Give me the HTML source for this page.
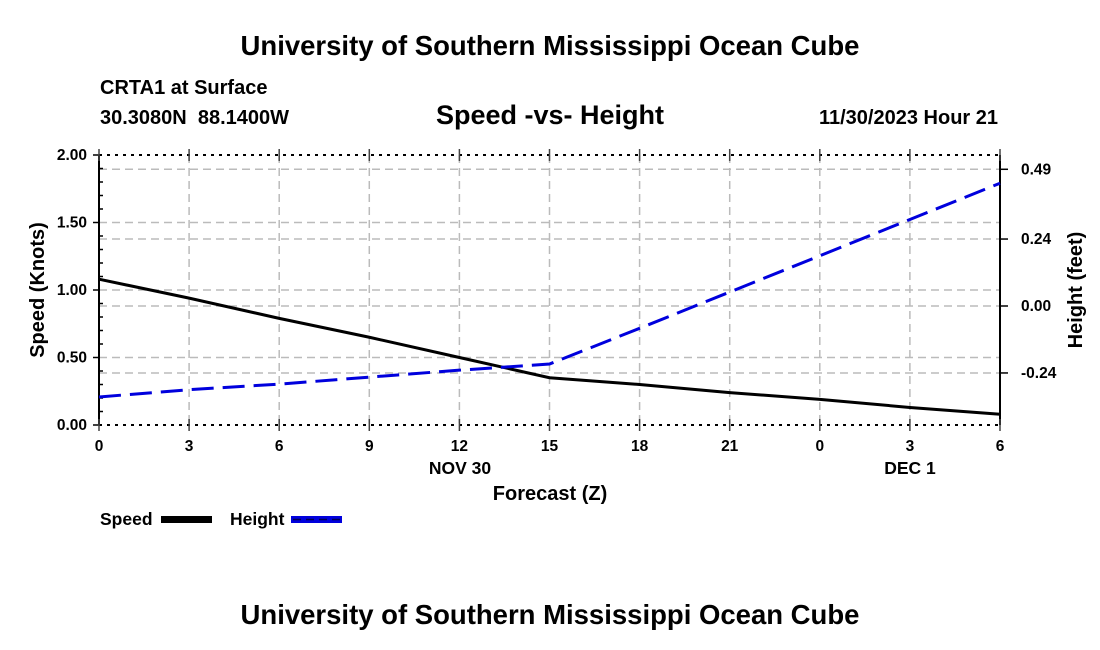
<!DOCTYPE html>
<html><head><meta charset="utf-8"><style>
body{margin:0;background:#fff;}
svg{display:block;font-family:"Liberation Sans",Arial,sans-serif;font-weight:bold;}
text{white-space:pre;}
</style></head><body>
<svg id="c" width="1100" height="650">
<text x="550" y="55" font-size="27.5" text-anchor="middle">University of Southern Mississippi Ocean Cube</text>
<text x="100" y="94" font-size="20">CRTA1 at Surface</text>
<text x="100" y="124" font-size="20" xml:space="preserve">30.3080N  88.1400W</text>
<text x="550" y="124" font-size="27" text-anchor="middle">Speed -vs- Height</text>
<text x="998" y="124" font-size="20" text-anchor="end">11/30/2023 Hour 21</text>
<text x="550" y="624" font-size="27.5" text-anchor="middle">University of Southern Mississippi Ocean Cube</text>
<g id="g"></g>
</svg>
<script>
const hours=[0,3,6,9,12,15,18,21,24,27,30];
const xLabels=["0","3","6","9","12","15","18","21","0","3","6"];
const speedTicks=[0,0.5,1,1.5,2];
const heightTicks=[-0.24,0,0.24,0.49];
const speed=[1.08,0.94,0.79,0.65,0.50,0.35,0.30,0.24,0.19,0.13,0.08];
const height=[-0.326,-0.30,-0.28,-0.255,-0.23,-0.208,-0.08,0.05,0.18,0.31,0.44];
const NS="http://www.w3.org/2000/svg",g=document.getElementById('g');
const L=99,R=1000,T=155,B=425;
const X=h=>L+(R-L)*h/30, Y=s=>B-(B-T)*s/2, YH=v=>306-v*279;
function mk(t,a,txt){const e=document.createElementNS(NS,t);for(const k in a)e.setAttribute(k,a[k]);if(txt!==undefined)e.textContent=txt;g.appendChild(e);return e;}
const grid="#bbb";
hours.forEach((h,i)=>{if(i>0&&i<hours.length-1){const e=mk('line',{x1:X(h),x2:X(h),y1:T,y2:B,stroke:grid,'stroke-dasharray':'8,5','stroke-width':1.5});

}});
speedTicks.slice(1,-1).forEach(s=>{const e=mk('line',{x1:L,x2:R,y1:Y(s),y2:Y(s),stroke:grid,'stroke-dasharray':'8,5','stroke-width':1.5});

});
heightTicks.forEach(v=>{const e=mk('line',{x1:L,x2:R,y1:YH(v),y2:YH(v),stroke:grid,'stroke-dasharray':'8,5','stroke-width':1.5});

});
[[L,T,R,T],[L,B,R,B]].forEach(c=>{mk('line',{x1:c[0],y1:c[1],x2:c[2],y2:c[3],stroke:'#000','stroke-width':2,'stroke-dasharray':'3,5'});});
const la=mk('line',{x1:L,y1:T,x2:L,y2:B,stroke:'#000','stroke-width':2});


const ra=mk('line',{x1:R,y1:T,x2:R,y2:B,stroke:'#000','stroke-width':2});


for(let s=0;s<=2.001;s+=0.1){const maj=Math.abs(s*2-Math.round(s*2))<1e-6;mk('line',{x1:maj?L-6:L,x2:L+(maj?0:4),y1:Y(s),y2:Y(s),stroke:'#000','stroke-width':1.5});}
speedTicks.forEach(s=>{const t=mk('text',{x:L-12,y:Y(s)+5,'font-size':15.5,'text-anchor':'end'},s.toFixed(2));

});
heightTicks.forEach(v=>{mk('line',{x1:R,x2:R+8,y1:YH(v),y2:YH(v),stroke:'#000','stroke-width':1.5});
const t=mk('text',{x:R+21,y:YH(v)+5,'font-size':15.5},v.toFixed(2));

});
hours.forEach((h,i)=>{mk('line',{x1:X(h),x2:X(h),y1:T-6,y2:T+6,stroke:'#444','stroke-width':1.5});mk('line',{x1:X(h),x2:X(h),y1:B-6,y2:B+6,stroke:'#444','stroke-width':1.5});
const t=mk('text',{x:X(h),y:B+26,'font-size':15.5,'text-anchor':'middle'},xLabels[i]);

});
const d1=mk('text',{x:460,y:474,'font-size':17.5,'text-anchor':'middle'},'NOV 30');


const d2=mk('text',{x:910,y:474,'font-size':17.5,'text-anchor':'middle'},'DEC 1');


const xt=mk('text',{x:550,y:500,'font-size':20,'text-anchor':'middle'},'Forecast (Z)');


const yt=mk('text',{x:0,y:0,'font-size':20,'text-anchor':'middle',transform:'translate(44,290) rotate(-90)'},'Speed (Knots)');


const yt2=mk('text',{x:0,y:0,'font-size':20,'text-anchor':'middle',transform:'translate(1082,290) rotate(-90)'},'Height (feet)');


const sp=mk('polyline',{points:hours.map((h,i)=>X(h)+','+Y(speed[i])).join(' '),fill:'none',stroke:'#000','stroke-width':3});


const hl=mk('polyline',{points:hours.map((h,i)=>X(h)+','+YH(height[i])).join(' '),fill:'none',stroke:'#0000dd','stroke-width':3,'stroke-dasharray':'22,9'});


const l1=mk('text',{x:100,y:525,'font-size':17.5},'Speed');


const l1s=mk('rect',{x:161,y:516,width:51,height:7,fill:'#000'});


const l2=mk('text',{x:230,y:525,'font-size':17.5},'Height');


const l2s=mk('rect',{x:291,y:516,width:51,height:7,fill:'#0000dd'});


mk('line',{x1:293,x2:340,y1:519.5,y2:519.5,stroke:'#000055','stroke-width':1.5,'stroke-dasharray':'8,5'});
</script>
</body></html>
